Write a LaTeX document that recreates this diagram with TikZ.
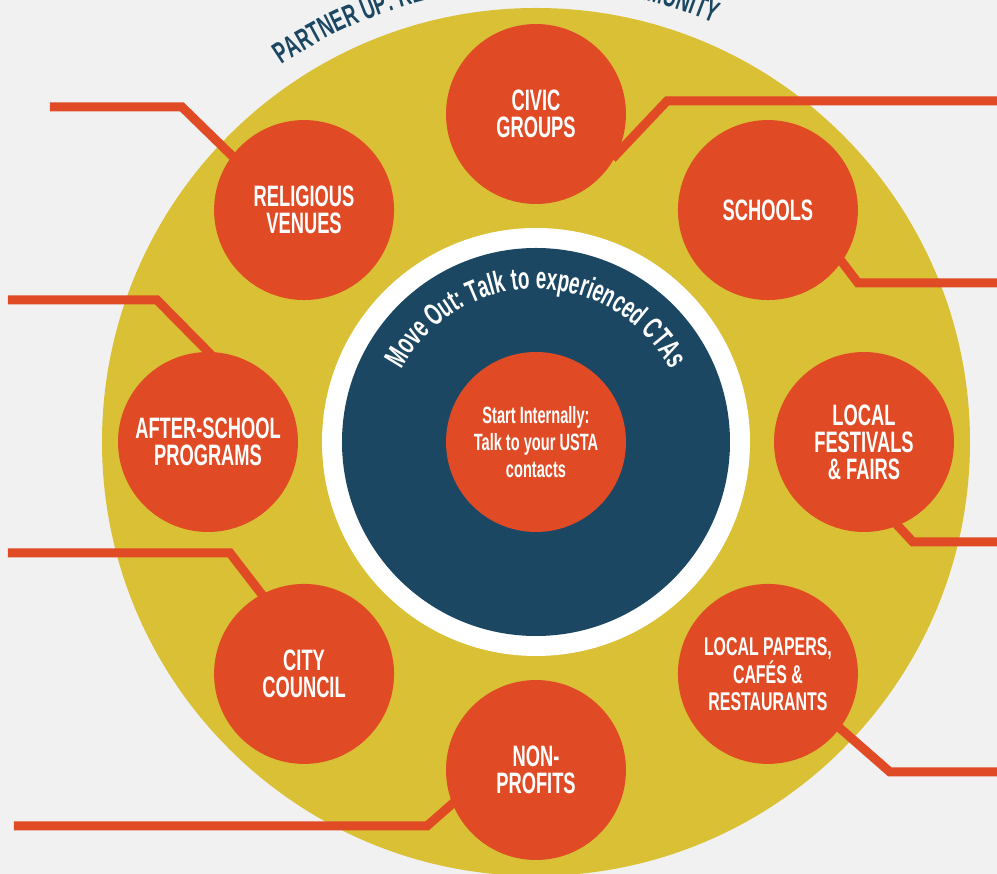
\documentclass[tikz,border=0pt]{standalone}
\usepackage{fontspec}
\setmainfont{Liberation Sans}[FakeStretch=0.62]
\usetikzlibrary{decorations.text}
\definecolor{paper}{RGB}{241,241,241}
\definecolor{mustard}{RGB}{217,192,53}
\definecolor{rust}{RGB}{224,75,37}
\definecolor{navy}{RGB}{27,71,99}
\tikzset{
  bubble/.style={circle,fill=rust,minimum size=3.6cm,inner sep=0pt,align=center,text=white,
    font=\fontsize{16.8}{15.4}\selectfont\bfseries},
  link/.style={rust,line width=0.18cm,shorten >=-4pt}
}
\begin{document}
\begin{tikzpicture}[x=0.02cm,y=0.02cm]
\useasboundingbox (-536,-432) rectangle (461,442);
\clip (-536,-432) rectangle (461,442);
\fill[paper] (-536,-432) rectangle (461,442);
% rings
\fill[mustard] (0,0) circle[radius=434];
\path[decorate,decoration={text along path,text align=center,
  text={|\fontsize{17.1}{16}\selectfont\bfseries\color{navy}|PARTNER UP: REACH OUT TO YOUR COMMUNITY}}]
  (151.5:455) arc[start angle=151.5,end angle=39.5,radius=455];
\fill[white] (0,0) circle[radius=214];
\fill[navy] (0,0) circle[radius=194];
\path[decorate,decoration={text along path,text align=center,
  text={|\fontsize{17.4}{16}\selectfont\bfseries\color{white}|Move Out: Talk to experienced CTAs}}]
  (175:153) arc[start angle=175,end angle=5,radius=153];
% hub and partners
\node[bubble,font=\fontsize{13.4}{15.3}\selectfont\bfseries] (hub) at (0,0) {Start Internally:\\Talk to your USTA\\contacts};
\node[bubble] (civic) at (90:328) {CIVIC\\GROUPS};
\node[bubble] (schools) at (45:328) {SCHOOLS};
\node[bubble] (fairs) at (0:328) {LOCAL\\FESTIVALS\\\& FAIRS};
\node[bubble,font=\fontsize{14.6}{15}\selectfont\bfseries] (papers) at (-45:328) {LOCAL PAPERS,\\CAFÉS \&\\RESTAURANTS};
\node[bubble] (nonprofits) at (-90:328) {NON-\\PROFITS};
\node[bubble] (council) at (-135:328) {CITY\\COUNCIL};
\node[bubble] (afterschool) at (180:328) {AFTER-SCHOOL\\PROGRAMS};
\node[bubble] (religious) at (135:328) {RELIGIOUS\\VENUES};
% leader lines out to the margins
\foreach \n/\tx/\bx/\y/\a in {religious/-486/-354/335/143, afterschool/-528/-379/142/90,
    council/-528/-306/-111/118, nonprofits/-522/-109/-384/202, civic/470/131/341/334,
    schools/470/322/159/325, fairs/470/377/-100/292, papers/470/354/-330/323}{
  \coordinate (\n-tail) at (\tx,\y);
  \coordinate (\n-bend) at (\bx,\y);
  \draw[link] (\n-tail) -- (\n-bend) -- (\n.\a);
}
\end{tikzpicture}
\end{document}
